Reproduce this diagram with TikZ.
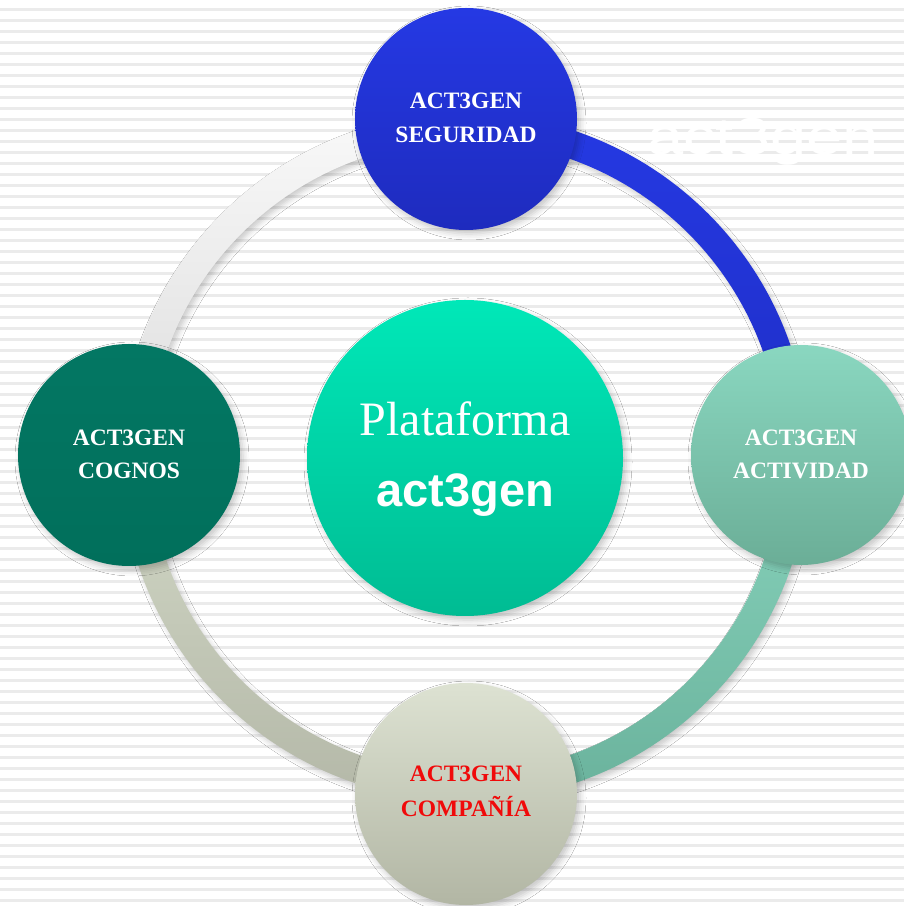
\documentclass[tikz,border=0pt]{standalone}
\usepackage{fontspec}
\setmainfont{Liberation Serif}
\newfontfamily\arialfont{Liberation Sans}
\usepackage{graphicx}
\usetikzlibrary{shadows.blur,calc}

\definecolor{stripe}{HTML}{EBEBEB}
\definecolor{ringBT}{HTML}{2539E3}
\definecolor{ringBB}{HTML}{1F2EC6}
\definecolor{ringTT}{HTML}{88D3BC}
\definecolor{ringTB}{HTML}{6AB29C}
\definecolor{ringGT}{HTML}{D2D8C6}
\definecolor{ringGB}{HTML}{B4B8A8}
\definecolor{ringWT}{HTML}{F9F9F9}
\definecolor{ringWB}{HTML}{DCDCDC}
\definecolor{segT}{HTML}{2539E4}
\definecolor{segB}{HTML}{1E2BBE}
\definecolor{actT}{HTML}{8AD7C0}
\definecolor{actB}{HTML}{6BAE97}
\definecolor{comT}{HTML}{DDE2D2}
\definecolor{comB}{HTML}{B2B6A4}
\definecolor{cogT}{HTML}{037763}
\definecolor{cogB}{HTML}{016F5B}
\definecolor{coreT}{HTML}{00E8B8}
\definecolor{coreB}{HTML}{00BC93}
\definecolor{redtext}{HTML}{F00A0A}

\begin{document}
\begin{tikzpicture}[x=1bp,y=1bp,
  ringpart/.style={blur shadow={shadow xshift=3bp,shadow yshift=-4bp,shadow blur radius=5bp,shadow opacity=20}},
  bubble/.style={circle,minimum size=222bp,inner sep=0pt,
    blur shadow={shadow xshift=3bp,shadow yshift=-4bp,shadow blur radius=6bp,shadow opacity=22}},
  lbl/.style={anchor=base,inner sep=0pt,text=white,font=\fontsize{23.5bp}{28bp}\selectfont\bfseries},
]
\useasboundingbox (0,0) rectangle (904,906);
\fill[white] (0,0) rectangle (904,906);
\foreach \k in {0,...,81} \fill[stripe] (0,{898-11*\k}) rectangle (904,{895.3-11*\k});

% watermark logo
\node[anchor=base,inner sep=0pt,text=white,font=\arialfont\fontsize{52bp}{54bp}\selectfont] (wm) at (763,751) {\scalebox{1.25}[1]{act3gen}};

% ring
\coordinate (rc) at (465,449);
\path[ringpart,top color=ringWT,bottom color=ringWB]
  ([shift={(rc)}]90:344bp) arc[start angle=90,end angle=180,radius=344bp]
  -- ([shift={(rc)}]180:316bp) arc[start angle=180,end angle=90,radius=316bp] -- cycle;
\path[ringpart,top color=ringGT,bottom color=ringGB]
  ([shift={(rc)}]180:344bp) arc[start angle=180,end angle=270,radius=344bp]
  -- ([shift={(rc)}]270:316bp) arc[start angle=270,end angle=180,radius=316bp] -- cycle;
\path[ringpart,top color=ringTT,bottom color=ringTB]
  ([shift={(rc)}]270:344bp) arc[start angle=270,end angle=360,radius=344bp]
  -- ([shift={(rc)}]0:316bp) arc[start angle=360,end angle=270,radius=316bp] -- cycle;
\path[ringpart,top color=ringBT,bottom color=ringBB]
  ([shift={(rc)}]0:344bp) arc[start angle=0,end angle=90,radius=344bp]
  -- ([shift={(rc)}]90:316bp) arc[start angle=90,end angle=0,radius=316bp] -- cycle;

% circles
\node[bubble,top color=segT,bottom color=segB] (seg) at (466,787) {};
\node[bubble,top color=cogT,bottom color=cogB] (cog) at (129,451) {};
\node[bubble,minimum size=220bp,top color=actT,bottom color=actB] (act) at (801,451) {};
\node[bubble,top color=comT,bottom color=comB] (com) at (466,112) {};
\node[bubble,minimum size=316bp,top color=coreT,bottom color=coreB] (core) at (465,448) {};

% labels
\node[lbl] (segA) at ([yshift=10bp]seg.center) {ACT3GEN};
\node[lbl] (segB) at ([yshift=-24bp]seg.center) {SEGURIDAD};
\node[lbl] (cogA) at ([yshift=9bp]cog.center) {ACT3GEN};
\node[lbl] (cogB) at ([yshift=-24bp]cog.center) {COGNOS};
\node[lbl] (actA) at ([yshift=9bp]act.center) {ACT3GEN};
\node[lbl] (actB) at ([yshift=-24bp]act.center) {ACTIVIDAD};
\node[lbl,text=redtext] (comA) at ([yshift=12bp]com.center) {ACT3GEN};
\node[lbl,text=redtext] (comB) at ([yshift=-23bp]com.center) {COMPAÑÍA};

\node[anchor=base,inner sep=0pt,text=white,font=\fontsize{48bp}{50bp}\selectfont] (plat) at ([yshift=22bp]core.center) {Plataforma};
\node[anchor=base,inner sep=0pt,text=white,font=\arialfont\bfseries\fontsize{47bp}{50bp}\selectfont] (brand) at ([xshift=0.5bp,yshift=-49bp]core.center) {act3gen};
\end{tikzpicture}
\end{document}
